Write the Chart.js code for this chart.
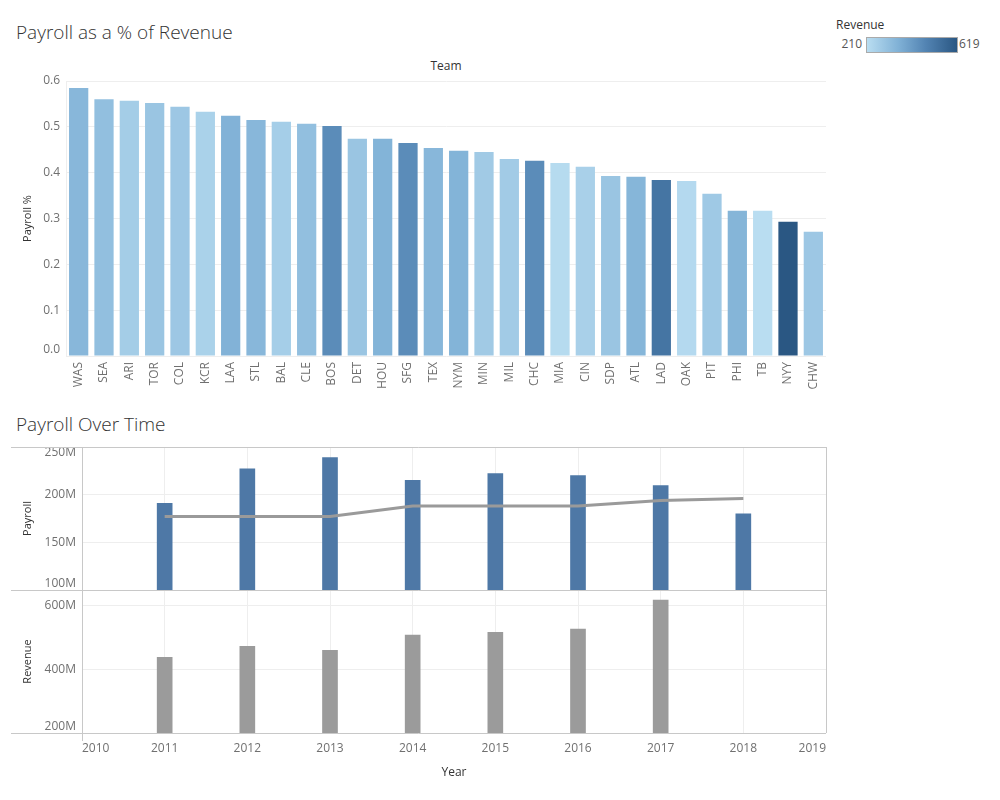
<!DOCTYPE html>
<html><head><meta charset="utf-8">
<script src="https://cdn.jsdelivr.net/npm/chart.js@4/dist/chart.umd.min.js"></script>
<style>
body{margin:0;width:1000px;height:800px;background:#fff;position:relative;overflow:hidden;font-family:"Open Sans",sans-serif;}
.t{position:absolute;color:#333;white-space:nowrap;line-height:1;}
#c1{position:absolute;left:0;top:0;}
#c2{position:absolute;left:0;top:440px;}
#grad{position:absolute;left:866px;top:37px;width:90px;height:14px;border:1px solid #aaa;background:linear-gradient(to right,#b9ddf1 0%,#80b1d6 35%,#5384b3 65%,#2a5783 100%);}
</style></head><body>
<div class="t" style="left:16px;top:23px;font-size:19px;font-weight:300;">Payroll as a % of Revenue</div>
<div class="t" style="left:0;width:892px;text-align:center;top:60px;font-size:12px;">Team</div>
<div class="t" style="left:16px;top:415px;font-size:19px;font-weight:300;">Payroll Over Time</div>
<div class="t" style="left:836px;top:19px;font-size:12px;">Revenue</div>
<div class="t" style="left:838px;top:38px;width:24px;text-align:right;font-size:12px;color:#555;">210</div>
<div class="t" style="left:959px;top:38px;font-size:12px;color:#555;">619</div>
<div id="grad"></div>
<canvas id="c1" width="1000" height="400" style="width:1000px;height:400px"></canvas>
<canvas id="c2" width="1000" height="360" style="width:1000px;height:360px"></canvas>
<script>
// ---- Data: top chart ----
const teams = ["WAS","SEA","ARI","TOR","COL","KCR","LAA","STL","BAL","CLE","BOS","DET","HOU","SFG","TEX","NYM","MIN","MIL","CHC","MIA","CIN","SDP","ATL","LAD","OAK","PIT","PHI","TB","NYY","CHW"];
const payrollPct = [0.585,0.560,0.557,0.552,0.544,0.533,0.524,0.515,0.511,0.507,0.502,0.474,0.474,0.465,0.454,0.448,0.445,0.430,0.426,0.421,0.413,0.393,0.391,0.384,0.382,0.354,0.317,0.317,0.293,0.271];
const teamRevenue = [333,308,263,288,280,247,349,333,259,308,455,288,345,455,333,345,271,267,455,218,251,288,337,525,222,275,341,210,619,280];
const revMin = 210, revMax = 619;
const pctTicks = [0,0.1,0.2,0.3,0.4,0.5,0.6];
// ---- Data: bottom chart ----
const years = [2011,2012,2013,2014,2015,2016,2017,2018];
const payrollM = [191,227,239,215,222,220,209.5,180];
const avgPayrollM = [177,177,177,188,188,188,194,196];
const revenueM = [438,473,460,508,517,527,618,null];
const yearMin = 2010, yearMax = 2019;
const payrollTicksM = [100,150,200,250];
const revenueTicksM = [200,400,600];

const FONT = '"Open Sans", sans-serif';
const TICK = '#707070';

const rampStops=[[0,[185,221,241]],[0.35,[128,177,214]],[0.65,[83,132,179]],[1,[42,87,131]]];
function rampColor(v){
  const t=Math.max(0,Math.min(1,(v-revMin)/(revMax-revMin)));
  let k=0; while(k<rampStops.length-2 && t>rampStops[k+1][0]) k++;
  const [t0,a]=rampStops[k],[t1,b]=rampStops[k+1];
  const f=(t-t0)/(t1-t0);
  const c=a.map((x,i)=>Math.round(x+(b[i]-x)*f));
  return `rgb(${c[0]},${c[1]},${c[2]})`;
}

// keep edge tick labels inside their panel (Tableau style)
const edgeLabels={id:'edgeLabels',beforeDraw(chart,args,opts){
  (opts.scales||[]).forEach(cfg=>{
    const s=chart.scales[cfg.id]; if(!s) return;
    const items=s.getLabelItems(chart.chartArea);
    items.forEach((it,i)=>{
      const v=s.ticks[i]&&s.ticks[i].value;
      if(cfg.min && v===s.min){it.options.textBaseline='bottom';}
      if(cfg.max && v===s.max){it.options.textBaseline='top';}
    });
  });
}};

new Chart(document.getElementById('c1'),{
  type:'bar',
  data:{labels:teams,datasets:[{data:payrollPct,backgroundColor:teamRevenue.map(rampColor),barPercentage:0.76,categoryPercentage:1}]},
  plugins:[edgeLabels],
  options:{
    responsive:false,animation:false,
    layout:{padding:{top:81,right:174,left:0,bottom:0}},
    plugins:{legend:{display:false},tooltip:{enabled:false},edgeLabels:{scales:[{id:'y',min:true}]}},
    scales:{
      x:{grid:{display:false,drawTicks:false},border:{display:false},
        ticks:{color:TICK,font:{family:FONT,size:12},minRotation:90,maxRotation:90,padding:6,autoSkip:false},
        afterFit:s=>{s.height=44;}},
      y:{min:0,max:0.6,afterBuildTicks:s=>{s.ticks=pctTicks.map(v=>({value:v}));},
        grid:{color:'#eeeeee',drawTicks:false},border:{color:'#eeeeee'},
        ticks:{color:TICK,font:{family:FONT,size:12},padding:6,callback:v=>v.toFixed(1)},
        title:{display:true,text:'Payroll %',color:'#333',font:{family:FONT,size:11},padding:{top:21,bottom:0}},
        afterFit:s=>{s.width=66;}}
    }
  }
});

const framePlugin={id:'frame',afterDraw(chart){
  const {ctx,chartArea:a}=chart; const yP=chart.scales.yP;
  ctx.save(); ctx.strokeStyle='#c8c8c8'; ctx.lineWidth=1;
  ctx.beginPath();
  [a.top,yP.bottom,a.bottom].forEach(y=>{const yy=Math.round(y)+0.5;ctx.moveTo(11,yy);ctx.lineTo(a.right,yy);});
  const xl=Math.round(a.left)+0.5, xr=Math.round(a.right)+0.5;
  ctx.moveTo(xl,a.top);ctx.lineTo(xl,a.bottom+8);
  ctx.moveTo(xr,a.top);ctx.lineTo(xr,a.bottom);
  ctx.stroke(); ctx.restore();
}};

const M=v=>v*1e6;
const noPad=s=>{s.width=82;s.paddingTop=0;s.paddingBottom=0;};
new Chart(document.getElementById('c2'),{
  data:{datasets:[
    {type:'bar',yAxisID:'yP',data:years.map((y,i)=>({x:y,y:M(payrollM[i])})),backgroundColor:'#4e78a6',barThickness:15,grouped:false,order:2},
    {type:'line',yAxisID:'yP',data:years.map((y,i)=>({x:y,y:M(avgPayrollM[i])})),borderColor:'#9a9a9a',borderWidth:3,pointRadius:0,tension:0,order:1},
    {type:'bar',yAxisID:'yR',data:years.map((y,i)=>({x:y,y:revenueM[i]==null?null:M(revenueM[i])})),backgroundColor:'#9b9b9b',barThickness:15,grouped:false,order:3}
  ]},
  plugins:[framePlugin,edgeLabels],
  options:{
    responsive:false,animation:false,
    layout:{padding:{top:7,right:174,left:0,bottom:0}},
    plugins:{legend:{display:false},tooltip:{enabled:false},
      edgeLabels:{scales:[{id:'yP',min:true,max:true},{id:'yR',min:true}]}},
    scales:{
      x:{type:'linear',min:yearMin,max:yearMax,offset:false,
        grid:{color:'#eeeeee',drawTicks:false,offset:false},border:{display:false},
        ticks:{stepSize:1,align:'inner',color:TICK,font:{family:FONT,size:12},padding:8,callback:v=>String(v)},
        title:{display:true,text:'Year',color:'#333',font:{family:FONT,size:12},padding:{top:0,bottom:20}},
        afterFit:s=>{s.height=67;s.paddingLeft=0;s.paddingRight=0;}},
      yR:{type:'linear',position:'left',stack:'panels',stackWeight:1,min:M(200),max:M(650),
        afterBuildTicks:s=>{s.ticks=revenueTicksM.map(v=>({value:M(v)}));},
        grid:{color:'#eeeeee',drawTicks:false},border:{display:false},
        ticks:{color:TICK,font:{family:FONT,size:12},padding:6,callback:v=>Math.round(v/1e6)+'M'},
        title:{display:true,text:'Revenue',color:'#333',font:{family:FONT,size:11},padding:{top:21,bottom:0}},
        afterFit:noPad},
      yP:{type:'linear',position:'left',stack:'panels',stackWeight:1,min:M(100),max:M(250),
        afterBuildTicks:s=>{s.ticks=payrollTicksM.map(v=>({value:M(v)}));},
        grid:{color:'#eeeeee',drawTicks:false},border:{display:false},
        ticks:{color:TICK,font:{family:FONT,size:12},padding:6,callback:v=>Math.round(v/1e6)+'M'},
        title:{display:true,text:'Payroll',color:'#333',font:{family:FONT,size:11},padding:{top:21,bottom:0}},
        afterFit:noPad}
    }
  }
});
</script>
</body></html>
